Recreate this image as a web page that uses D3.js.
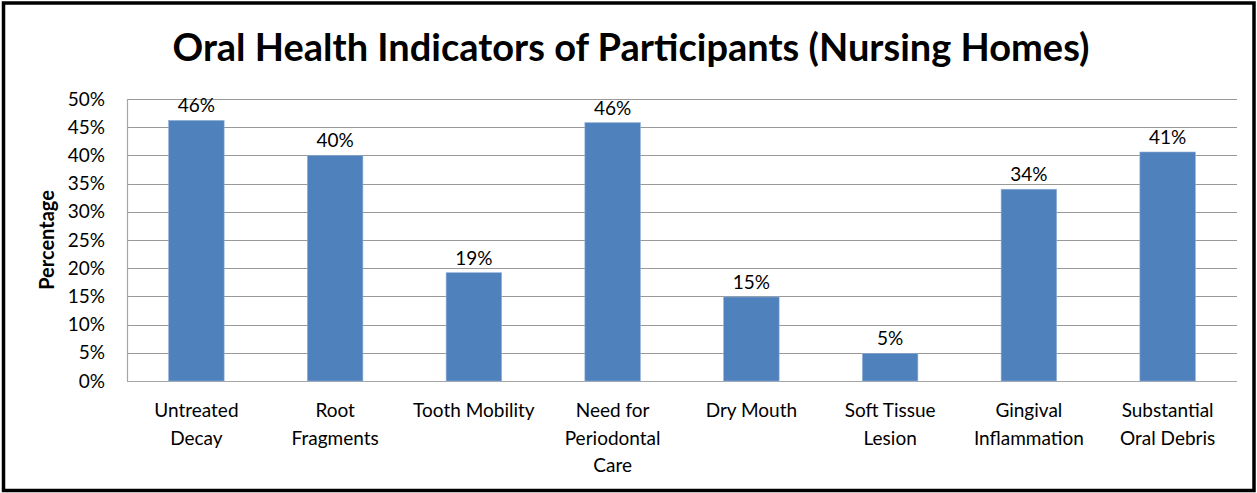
<!DOCTYPE html>
<html>
<head>
<meta charset="utf-8">
<script src="https://cdn.jsdelivr.net/npm/d3@7"></script>
<style>
	html, body { margin: 0; padding: 0; background: #fff; }
	text { font-family: Lato, "Open Sans", sans-serif; fill: #000; }
</style>
</head>
<body>
<div id="vis"></div>
<script>
// chart data
var title = 'Oral Health Indicators of Participants (Nursing Homes)';
var yTitle = 'Percentage';
var categories = [
	['Untreated', 'Decay'],
	['Root', 'Fragments'],
	['Tooth Mobility'],
	['Need for', 'Periodontal', 'Care'],
	['Dry Mouth'],
	['Soft Tissue', 'Lesion'],
	['Gingival', 'Inflammation'],
	['Substantial', 'Oral Debris']
];
var values = [46.2, 40.0, 19.2, 45.8, 14.9, 4.9, 34.0, 40.6];
var yTicks = [0, 5, 10, 15, 20, 25, 30, 35, 40, 45, 50];

var width = 1257, height = 493;
var margin = { left: 127, right: 20, top: 99, bottom: 112 };

var svg = d3.select('#vis').append('svg')
	.attr('width', width)
	.attr('height', height);

// outer frame
svg.append('rect')
	.attr('x', 3.5)
	.attr('y', 3)
	.attr('width', width - 6.5)
	.attr('height', height - 5.5)
	.attr('fill', '#fff')
	.attr('stroke', '#000')
	.attr('stroke-width', 3.5);

var x = d3.scaleBand()
	.domain(d3.range(categories.length))
	.range([margin.left, width - margin.right])
	.paddingInner(0.6)
	.paddingOuter(0.3);

var y = d3.scaleLinear()
	.domain([0, 50])
	.range([height - margin.bottom, margin.top]);

// gridlines
svg.append('g')
	.selectAll('line')
	.data(yTicks)
	.enter().append('line')
	.attr('x1', margin.left)
	.attr('x2', width - margin.right)
	.attr('y1', function(d) { return Math.round(y(d)) + 0.5; })
	.attr('y2', function(d) { return Math.round(y(d)) + 0.5; })
	.attr('stroke', function(d) { return d === 0 ? '#a6a6a6' : '#999'; })
	.attr('stroke-width', 1.2);

// y axis line
svg.append('line')
	.attr('x1', margin.left + 0.5)
	.attr('x2', margin.left + 0.5)
	.attr('y1', y(50))
	.attr('y2', y(0))
	.attr('stroke', '#a6a6a6')
	.attr('stroke-width', 1.2);

// y tick labels
svg.append('g')
	.selectAll('text')
	.data(yTicks)
	.enter().append('text')
	.attr('x', 105)
	.attr('y', function(d) { return y(d) + 6.5; })
	.attr('text-anchor', 'end')
	.style('font-size', '19px')
	.text(function(d) { return d + '%'; });

// bars
svg.append('g')
	.selectAll('rect')
	.data(values)
	.enter().append('rect')
	.attr('x', function(d, i) { return x(i); })
	.attr('y', function(d) { return y(d); })
	.attr('width', x.bandwidth())
	.attr('height', function(d) { return y(0) - y(d); })
	.attr('fill', '#4f81bd')
	.attr('stroke', '#8fb0d8')
	.attr('stroke-width', 0.6);

// value labels
svg.append('g')
	.selectAll('text')
	.data(values)
	.enter().append('text')
	.attr('x', function(d, i) { return x(i) + x.bandwidth() / 2; })
	.attr('y', function(d) { return y(d) - 8; })
	.attr('text-anchor', 'middle')
	.style('font-size', '19px')
	.text(function(d) { return Math.round(d) + '%'; });

// category labels
var cat = svg.append('g')
	.selectAll('text')
	.data(categories)
	.enter().append('text')
	.attr('text-anchor', 'middle')
	.style('font-size', '19px')
	.attr('transform', function(d, i) {
		return 'translate(' + (x(i) + x.bandwidth() / 2) + ',417)';
	});
cat.selectAll('tspan')
	.data(function(d) { return d; })
	.enter().append('tspan')
	.attr('x', 0)
	.attr('y', function(d, j) { return j * 27.5; })
	.text(function(d) { return d; });

// y axis title
svg.append('text')
	.attr('transform', 'translate(54,240) rotate(-90)')
	.attr('text-anchor', 'middle')
	.style('font-size', '20px')
	.style('font-weight', 'bold')
	.text(yTitle);

// chart title
svg.append('text')
	.attr('x', 631)
	.attr('y', 61)
	.attr('text-anchor', 'middle')
	.style('font-size', '38px')
	.style('font-weight', 'bold')
	.text(title);
</script>
</body>
</html>
